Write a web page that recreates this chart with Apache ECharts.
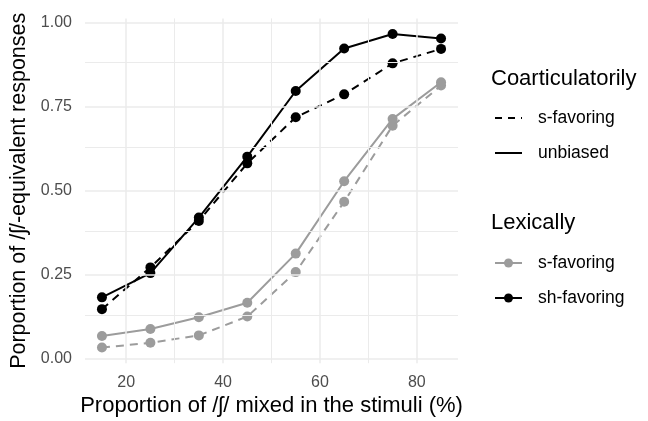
<!DOCTYPE html>
<html><head><meta charset="utf-8">
<script src="https://cdn.jsdelivr.net/npm/echarts@6/dist/echarts.min.js"></script>
<style>html,body{margin:0;padding:0;background:#fff}#c{width:648px;height:421px}</style>
</head><body><div id="c"></div>
<script>
const xValues = [15, 25, 35, 45, 55, 65, 75, 85];
const shUnbiased = [0.183, 0.255, 0.420, 0.601, 0.796, 0.922, 0.965, 0.952];
const shSFavoring = [0.148, 0.272, 0.410, 0.581, 0.718, 0.786, 0.878, 0.921];
const sUnbiased = [0.068, 0.089, 0.124, 0.167, 0.313, 0.528, 0.713, 0.822];
const sSFavoring = [0.034, 0.048, 0.070, 0.126, 0.258, 0.467, 0.693, 0.812];
const xTicks = [20, 40, 60, 80];
const xMinor = [30, 50, 70];
const yTicks = [0, 0.25, 0.5, 0.75, 1.0];
const yMinor = [0.125, 0.375, 0.625, 0.875];

const FONT = 'Liberation Sans, Arial, sans-serif';
const GRAY = '#9c9c9c';
const BLACK = '#000000';
const DASH = [8, 6];

// ggplot-style 5% expansion of the data range
const allY = shUnbiased.concat(shSFavoring, sUnbiased, sSFavoring);
const yLo = Math.min(...allY), yHi = Math.max(...allY);
const yPad = (yHi - yLo) * 0.05;
const xPad = (Math.max(...xValues) - Math.min(...xValues)) * 0.05;

function pts(v) { return xValues.map((x, i) => [x, v[i]]); }
function mk(name, data, color, dashed) {
  return {
    name, type: 'line', data: pts(data), symbol: 'circle', symbolSize: 10,
    itemStyle: { color }, lineStyle: { color, width: 2, type: dashed ? DASH : 'solid' },
    z: 3, animation: false
  };
}
const gridStyle = (w) => ({ color: '#ebebeb', width: w, type: 'solid' });
const gridLines = [];
xTicks.forEach(v => gridLines.push({ xAxis: v, lineStyle: gridStyle(1.5) }));
xMinor.forEach(v => gridLines.push({ xAxis: v, lineStyle: gridStyle(1.0) }));
yTicks.forEach(v => gridLines.push({ yAxis: v, lineStyle: gridStyle(1.5) }));
yMinor.forEach(v => gridLines.push({ yAxis: v, lineStyle: gridStyle(1.0) }));

const chart = echarts.init(document.getElementById('c'), null, { renderer: 'canvas' });
const legX = 495, legTX = 538;
function legLine(y, color, dashed, dot) {
  const els = [{ type: 'line', shape: { x1: legX, y1: y, x2: legX + 27, y2: y },
    style: { stroke: color, lineWidth: 2, lineDash: dashed ? [7, 6] : null } }];
  if (dot) els.push({ type: 'circle', shape: { cx: legX + 13.5, cy: y, r: 4.5 }, style: { fill: color } });
  return els;
}
function legText(y, text, size) {
  return { type: 'text', x: legTX, y, style: { text, font: size + 'px ' + FONT, fill: '#000', textVerticalAlign: 'middle' } };
}
chart.setOption({
  animation: false,
  grid: { left: 85, top: 18.4, width: 373, height: 344.8, containLabel: false, outerBoundsMode: 'none' },
  xAxis: {
    type: 'value', min: Math.min(...xValues) - xPad, max: Math.max(...xValues) + xPad,
    axisLine: { show: false }, axisTick: { show: false }, splitLine: { show: false },
    axisLabel: { customValues: xTicks, color: '#4d4d4d', fontSize: 16, fontFamily: FONT, margin: 11 },
    name: 'Proportion of /ʃ/ mixed in the stimuli (%)', nameLocation: 'middle', nameGap: 24,
    nameTextStyle: { color: '#000', fontSize: 22, fontFamily: FONT }
  },
  yAxis: {
    type: 'value', min: yLo - yPad, max: yHi + yPad,
    axisLine: { show: false }, axisTick: { show: false }, splitLine: { show: false },
    axisLabel: { customValues: yTicks, formatter: v => v.toFixed(2), color: '#4d4d4d', fontSize: 16, fontFamily: FONT, margin: 13 },
    name: 'Porportion of /ʃ/-equivalent responses', nameLocation: 'middle', nameGap: 48,
    nameTextStyle: { color: '#000', fontSize: 21.5, fontFamily: FONT }
  },
  series: [
    { type: 'line', data: [], z: 0, silent: true,
      markLine: { silent: true, symbol: 'none', label: { show: false }, animation: false, data: gridLines } },
    mk('s-favoring / s-favoring', sSFavoring, GRAY, true),
    mk('s-favoring / unbiased', sUnbiased, GRAY, false),
    mk('sh-favoring / s-favoring', shSFavoring, BLACK, true),
    mk('sh-favoring / unbiased', shUnbiased, BLACK, false)
  ],
  graphic: [
    { type: 'text', x: 491, y: 79, style: { text: 'Coarticulatorily', font: '22px ' + FONT, fill: '#000', textVerticalAlign: 'middle' } },
    ...legLine(118, BLACK, true, false), legText(118, 's-favoring', 17.5),
    ...legLine(153, BLACK, false, false), legText(153, 'unbiased', 17.5),
    { type: 'text', x: 491, y: 223, style: { text: 'Lexically', font: '22px ' + FONT, fill: '#000', textVerticalAlign: 'middle' } },
    ...legLine(263, GRAY, false, true), legText(263, 's-favoring', 17.5),
    ...legLine(298, BLACK, false, true), legText(298, 'sh-favoring', 17.5)
  ]
});
</script></body></html>
